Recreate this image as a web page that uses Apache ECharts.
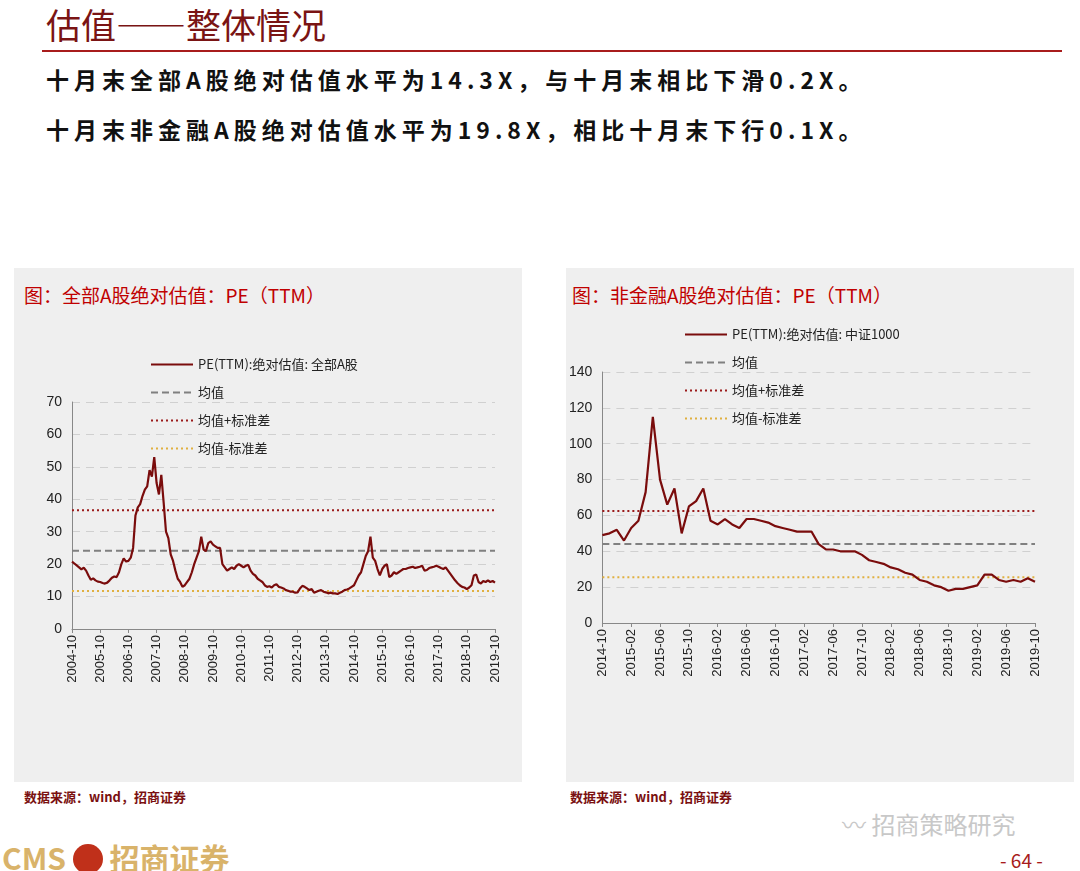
<!DOCTYPE html>
<html lang="zh">
<head>
<meta charset="UTF-8">
<title>估值——整体情况</title>
<script src="https://cdn.jsdelivr.net/npm/echarts@6.0.0/dist/echarts.min.js"></script>
<style>
  body { margin: 0; width: 1080px; height: 871px; position: relative; background: #fff; font-family: "Noto Sans CJK SC", sans-serif; overflow: hidden; }
  .abs { position: absolute; }
  .panel { position: absolute; background: #efefef; top: 268px; width: 508px; height: 514px; }
  .ptitle { position: absolute; top: 281px; font-size: 19px; color: #c00000; }
  .src { position: absolute; top: 787px; font-size: 13px; font-weight: bold; color: #7a1010; }
  .lead { position: absolute; left: 46px; font-size: 23px; font-weight: bold; color: #111; letter-spacing: 5px; }
</style>
</head>
<body>
<div class="abs" style="left:46px;top:-2px;font-size:35px;color:#7a1414;">估值——整体情况</div>
<div class="abs" style="left:42px;top:50px;width:1020px;height:2px;background:#a81c1c;"></div>
<div class="lead" style="top:62px;">十月末全部A股绝对估值水平为14.3X，与十月末相比下滑0.2X。</div>
<div class="lead" style="top:112px;">十月末非金融A股绝对估值水平为19.8X，相比十月末下行0.1X。</div>

<div class="panel" style="left:14px;"></div>
<div class="panel" style="left:566px;"></div>
<div class="ptitle" style="left:24px;">图：全部A股绝对估值：PE（TTM）</div>
<div class="ptitle" style="left:572px;">图：非金融A股绝对估值：PE（TTM）</div>
<div id="c1" class="abs" style="left:14px;top:268px;width:508px;height:514px;"></div>
<div id="c2" class="abs" style="left:566px;top:268px;width:508px;height:514px;"></div>
<div class="src" style="left:24px;">数据来源：wind，招商证券</div>
<div class="src" style="left:570px;">数据来源：wind，招商证券</div>

<div class="abs" style="left:842px;top:806px;font-size:24px;color:#c8c8c8;">〰 招商策略研究</div>
<div class="abs" style="left:2px;top:835px;font-size:30px;color:#d9b36a;font-weight:bold;">CMS <span style="display:inline-block;width:30px;height:30px;border-radius:15px;background:#c0301a;vertical-align:-4px;"></span> 招商证券</div>
<div class="abs" style="left:1000px;top:846px;font-size:19px;color:#a81c1c;">- 64 -</div>

<script>
// 全部A股 PE(TTM)，月度，2004-10 ~ 2019-10
const allPE = [
  20.8,20.2,19.6,19.0,18.4,18.9,18.0,16.5,15.2,15.6,15.0,14.6,
  14.5,14.2,14.0,14.3,15.0,15.8,16.2,16.0,17.5,20.0,21.8,20.8,
  21.0,22.0,25.0,35.0,37.5,38.5,41.0,43.0,44.0,49.0,47.0,53.0,
  45.0,41.5,47.5,39.0,30.0,28.0,23.0,21.0,18.0,15.5,14.5,13.0,
  13.5,14.5,15.5,17.5,20.0,22.0,24.0,28.5,24.5,24.0,26.5,27.0,
  26.0,25.5,25.0,25.0,20.0,19.0,18.0,18.5,19.0,18.5,19.5,20.0,
  19.5,19.0,19.5,19.8,18.0,17.0,16.5,15.5,15.0,14.5,13.5,13.0,
  13.2,12.8,13.5,13.8,13.0,12.8,12.5,12.0,11.8,11.5,11.5,11.2,
  11.3,12.5,13.3,13.0,12.5,12.0,12.3,11.2,11.5,11.8,12.0,11.5,
  11.3,11.0,11.2,11.0,11.0,10.8,11.2,11.5,12.0,12.2,12.5,13.0,
  13.5,15.0,16.5,17.5,20.0,22.5,24.0,28.5,22.0,21.0,18.5,16.5,
  18.5,19.5,20.0,16.0,16.5,17.5,17.0,17.5,18.0,18.5,18.5,18.8,
  19.0,19.2,18.8,19.0,19.2,19.5,18.0,18.2,18.8,19.0,19.2,19.5,
  19.2,18.8,18.5,19.0,18.0,17.0,16.0,15.0,14.2,13.5,13.0,12.8,
  12.3,12.8,13.5,16.5,16.8,14.5,14.0,14.8,14.5,15.0,14.5,14.8,
  14.3
];
const allStats = { mean: 24.1, up: 36.6, down: 11.7 };

// 中证1000 PE(TTM)，月度，2014-10 ~ 2019-10
const csiPE = [
  49,50,52,46,53,57,73,115,80,66,75,50,
  65,68,75,57,55,58,55,53,58,58,57,56,
  54,53,52,51,51,51,44,41,41,40,40,40,
  38,35,34,33,31,30,28,27,24,23,21,20,
  18,19,19,20,21,27,27,24,23,24,23,25,
  23
];
const csiStats = { mean: 44.0, up: 62.5, down: 25.5 };

function months(y0, m0, n) {
  const out = [];
  for (let i = 0; i < n; i++) {
    const t = y0 * 12 + (m0 - 1) + i;
    const y = Math.floor(t / 12), m = t % 12 + 1;
    out.push(y + '-' + (m < 10 ? '0' + m : m));
  }
  return out;
}

function build(el, cats, vals, stats, name, yMax, yStep, labelEvery, grid, legendPos) {
  const chart = echarts.init(document.getElementById(el));
  const last = cats[cats.length - 1];
  const flat = (v) => [[cats[0], v], [last, v]];
  const font = '"Noto Sans CJK SC", sans-serif';
  chart.setOption({
    animation: false,
    grid: grid,
    legend: {
      orient: 'vertical', left: legendPos[0], top: legendPos[1],
      itemWidth: 42, itemHeight: 12, itemGap: 15,
      itemStyle: { opacity: 0 },
      textStyle: { fontSize: 13, color: '#222', fontFamily: font },
      data: [name, '均值', '均值+标准差', '均值-标准差']
    },
    xAxis: {
      type: 'category', data: cats, boundaryGap: false,
      axisLine: { lineStyle: { color: '#888' } },
      axisTick: { interval: labelEvery - 1, length: 4, lineStyle: { color: '#888' } },
      axisLabel: { interval: labelEvery - 1, rotate: 90, fontSize: 13, color: '#222', fontFamily: 'Liberation Sans', margin: 6, showMaxLabel: true }
    },
    yAxis: {
      type: 'value', min: 0, max: yMax, interval: yStep,
      axisLine: { show: true, lineStyle: { color: '#888' } },
      axisTick: { show: false },
      axisLabel: { fontSize: 14, color: '#222', fontFamily: 'Liberation Sans', margin: 10 },
      splitLine: { lineStyle: { color: '#d0d0d0', type: [8, 6] } }
    },
    series: [
      { name: name, type: 'line', data: vals, symbol: 'none', lineStyle: { color: '#7a0c0c', width: 2.2 }, itemStyle: { color: '#7a0c0c' }, z: 5 },
      { name: '均值', type: 'line', data: flat(stats.mean), symbol: 'none', lineStyle: { color: '#808080', width: 2, type: [7, 4] }, itemStyle: { color: '#808080' } },
      { name: '均值+标准差', type: 'line', data: flat(stats.up), symbol: 'none', lineStyle: { color: '#9b1b1b', width: 2, type: [2, 3] }, itemStyle: { color: '#9b1b1b' } },
      { name: '均值-标准差', type: 'line', data: flat(stats.down), symbol: 'none', lineStyle: { color: '#e0b040', width: 2, type: [2, 3] }, itemStyle: { color: '#e0b040' } }
    ]
  });
}

build('c1', months(2004, 10, allPE.length), allPE, allStats, 'PE(TTM):绝对估值: 全部A股',
  70, 10, 12, { left: 58, top: 134, right: 27, bottom: 153 }, [131, 85]);
build('c2', months(2014, 10, csiPE.length), csiPE, csiStats, 'PE(TTM):绝对估值: 中证1000',
  140, 20, 4, { left: 36, top: 104, right: 39, bottom: 159 }, [113, 55]);
</script>
</body>
</html>
